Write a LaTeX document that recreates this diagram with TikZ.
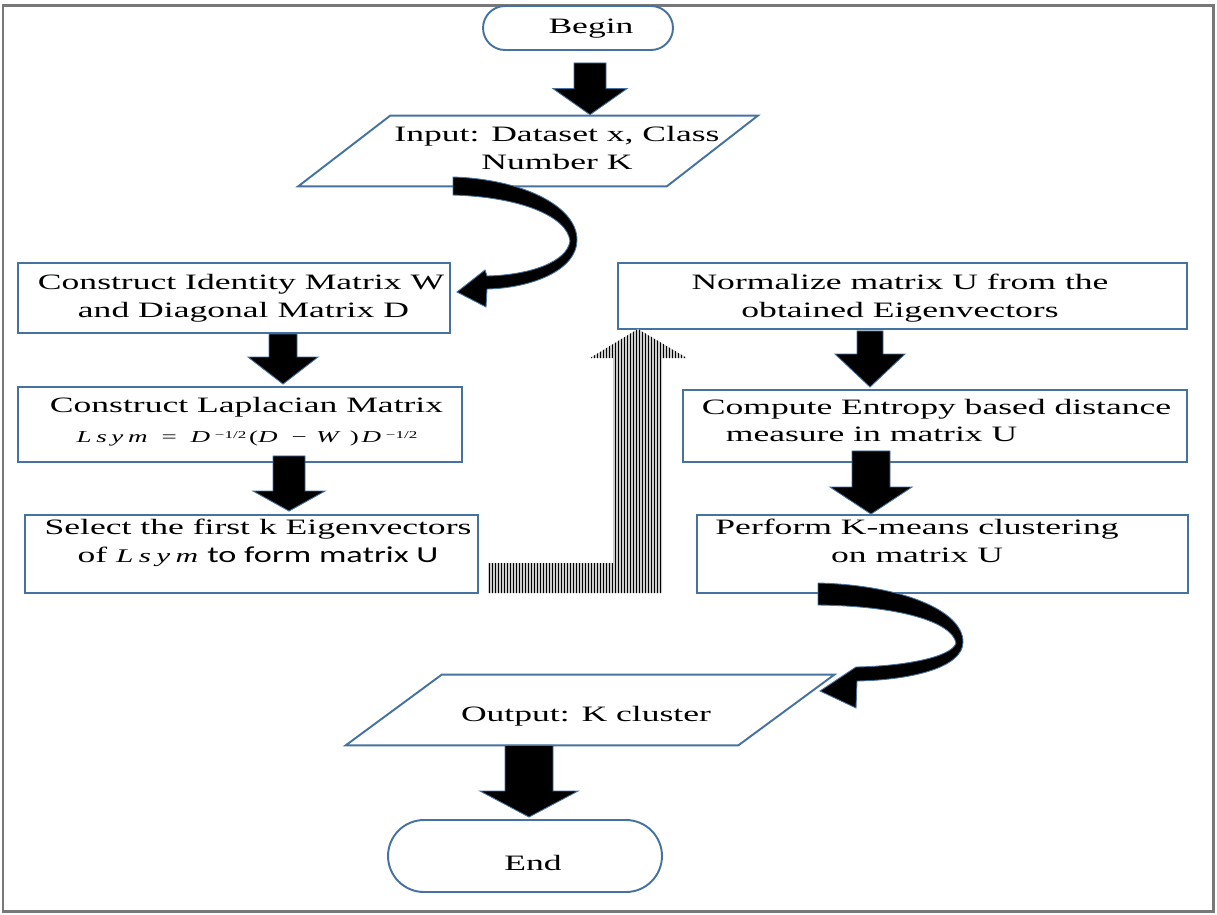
\documentclass[tikz,border=0pt]{standalone}
\usepackage{fontspec}
\setmainfont{Liberation Serif}[FakeStretch=1.62]
\newfontfamily\boxsans{Carlito}[FakeStretch=1.5]
\usetikzlibrary{calc}
\definecolor{edgeblue}{RGB}{70,114,160}
\definecolor{framegray}{RGB}{120,120,120}
\tikzset{
  x=0.02cm, y=-0.02cm,
  flowbox/.style={draw=edgeblue, line width=1.1pt, fill=white, rectangle, inner sep=0pt},
  shapeonly/.style={rectangle, inner sep=0pt},
  lbl/.style={font=\fontsize{12.5}{15.9}\selectfont, inner sep=0pt, align=center},
  fatarrow/.style={fill=black, draw=edgeblue, line width=0.5pt, line join=miter},
  ioedge/.style={draw=edgeblue, line width=1.1pt, fill=white},
}
% straight block arrow: #1 start point, #2 tip, #3 shaft half width,
% #4 head half width, #5 head length (all in drawing units)
\newcommand\blockarrow[5]{%
  \path[fatarrow] ($(#1 -| #2)+(-#3,0)$) -- ($(#1 -| #2)+(#3,0)$)
    -- ($(#2)+(#3,-#5)$) -- ($(#2)+(#4,-#5)$) -- (#2)
    -- ($(#2)+(-#4,-#5)$) -- ($(#2)+(-#3,-#5)$) -- cycle;}
\newcommand\lsym{\textit{L\;s\;y\;m}}
\newcommand\halfpow{{\fontsize{6}{6}\selectfont\raisebox{0.75ex}{−1/2}}}
\begin{document}
\begin{tikzpicture}
\useasboundingbox (0,0) rectangle (1217,914);
\fill[white] (0,0) rectangle (1217,914);
\draw[framegray, line width=1.7pt] (3,5) rectangle (1213,911);

% ---- shapes ----
\node[flowbox, rounded corners=0.44cm, minimum width=3.8cm, minimum height=0.88cm] (begin) at (578,28) {};
\node[shapeonly, minimum width=7.34cm, minimum height=1.4cm] (in) at (557,151) {};
\path[ioedge] ($(in.north west)+(17,0)$) -- ($(in.north east)+(17,0)$)
  -- ($(in.south east)+(-74,0)$) -- ($(in.south west)+(-75,0)$) -- cycle;
\node[flowbox, minimum width=8.64cm, minimum height=1.4cm] (ident) at (234,298) {};
\node[flowbox, minimum width=8.88cm, minimum height=1.5cm] (lap) at (240,424.5) {};
\node[flowbox, minimum width=9.06cm, minimum height=1.56cm] (sel) at (251.5,554) {};
\node[flowbox, minimum width=11.38cm, minimum height=1.32cm] (norm) at (902.5,296) {};
\node[flowbox, minimum width=10.08cm, minimum height=1.44cm] (comp) at (935,426) {};
\node[flowbox, minimum width=9.82cm, minimum height=1.56cm] (perf) at (942.5,554) {};
\node[shapeonly, minimum width=7.84cm, minimum height=1.4cm] (out) at (588,710) {};
\path[ioedge] ($(out.north west)+(50,0)$) -- ($(out.north east)+(50,0)$)
  -- ($(out.south east)+(-46,0)$) -- ($(out.south west)+(-46,0)$) -- cycle;
\node[flowbox, rounded corners=0.72cm, minimum width=5.48cm, minimum height=1.44cm] (end) at (525,856) {};

% ---- straight block arrows ----
\coordinate (a1s) at ($(begin.south)+(12,12)$);
\coordinate (a1e) at ($(in.north)+(33,-1)$);
\blockarrow{a1s}{a1e}{16}{37}{26}
\coordinate (a2s) at ($(ident.south)+(0,0)$);
\coordinate (a2e) at ($(lap.north)+(43,-2)$);
\blockarrow{a2s}{a2e}{14}{35}{27}
\coordinate (a3s) at ($(lap.south)+(0,-7)$);
\coordinate (a3e) at ($(sel.north)+(37.5,-3)$);
\blockarrow{a3s}{a3e}{16}{36}{20}
\coordinate (a4s) at ($(norm.south)+(0,1)$);
\coordinate (a4e) at ($(comp.north)+(-65,-2)$);
\blockarrow{a4s}{a4e}{13}{35}{33}
\coordinate (a5s) at ($(comp.south)+(0,-12)$);
\coordinate (a5e) at ($(perf.north)+(-71.5,0)$);
\blockarrow{a5s}{a5e}{19}{41}{27}
\coordinate (a6s) at ($(out.south)+(0,0)$);
\coordinate (a6e) at ($(end.north)+(4,-2)$);
\blockarrow{a6s}{a6e}{24}{49}{26}

% ---- curved block arrows ----
\path[fatarrow] (453,177) .. controls (520,179) and (577,205) .. (577,240)
  .. controls (577,270) and (532,288) .. (487,289) -- (486,307) -- (457,292)
  -- (485,270) -- (487,276) .. controls (530,275) and (567,262) .. (570,241)
  .. controls (567,216) and (520,197) .. (453,195) -- cycle;
\path[fatarrow] (818,583) .. controls (900,585) and (963,610) .. (963,642)
  .. controls (963,668) and (910,680) .. (857,681) -- (856,708) -- (820,691)
  -- (856,667) -- (857,667) .. controls (905,666) and (952,657) .. (956,643)
  .. controls (952,622) and (900,606) .. (818,605) -- cycle;

% ---- striped return arrow ----
\begin{scope}
  \path[clip] (488,563) -- (613,563) -- (613,358) -- (590,358) -- (638,329)
    -- (687,358) -- (662,358) -- (662,593) -- (488,593) -- cycle;
  \fill[gray!40] (480,320) rectangle (700,600);
  \foreach \sx in {489,492,...,688}
    \draw[black, line width=0.55pt] (\sx,320) -- (\sx,600);
\end{scope}

% ---- texts ----
\node[lbl] (begin-t) at (591,29) {Begin};
\node[lbl] (in-t) at (557,148) {Input: Dataset x, Class\\Number K};
\node[lbl, align=left] (ident-t) at (241,298) {Construct Identity Matrix W\\\hspace*{0.8cm}and Diagonal Matrix D};
\node[lbl] (lap-t) at (246.5,407) {Construct Laplacian Matrix};
\node[lbl, font=\fontsize{9.5}{10}\selectfont] (lap-f) at (247,438)
  {\lsym\;\;\;=\;\;\;\textit{D}\;\halfpow\,(\textit{D}\;\;\;−\;\;\textit{W}\;\;)\,\textit{D}\;\halfpow};
\node[lbl] (sel-t) at (258,543) {Select the first k Eigenvectors\\of {\fontsize{11}{12}\selectfont\lsym} {\boxsans\fontsize{13}{15.9}\selectfont to form matrix U}};
\node[lbl] (norm-t) at (900,298) {Normalize matrix U from the\\obtained Eigenvectors};
\node[lbl, align=left] (comp-t) at (936.5,420.5) {Compute Entropy based distance\\\hspace*{0.48cm}measure in matrix U};
\node[lbl] (perf-t) at (917,541) {Perform K-means clustering\\on matrix U};
\node[lbl] (out-t) at (586,716) {Output: K cluster};
\node[lbl] (end-t) at (533,863) {End};
\end{tikzpicture}
\end{document}
